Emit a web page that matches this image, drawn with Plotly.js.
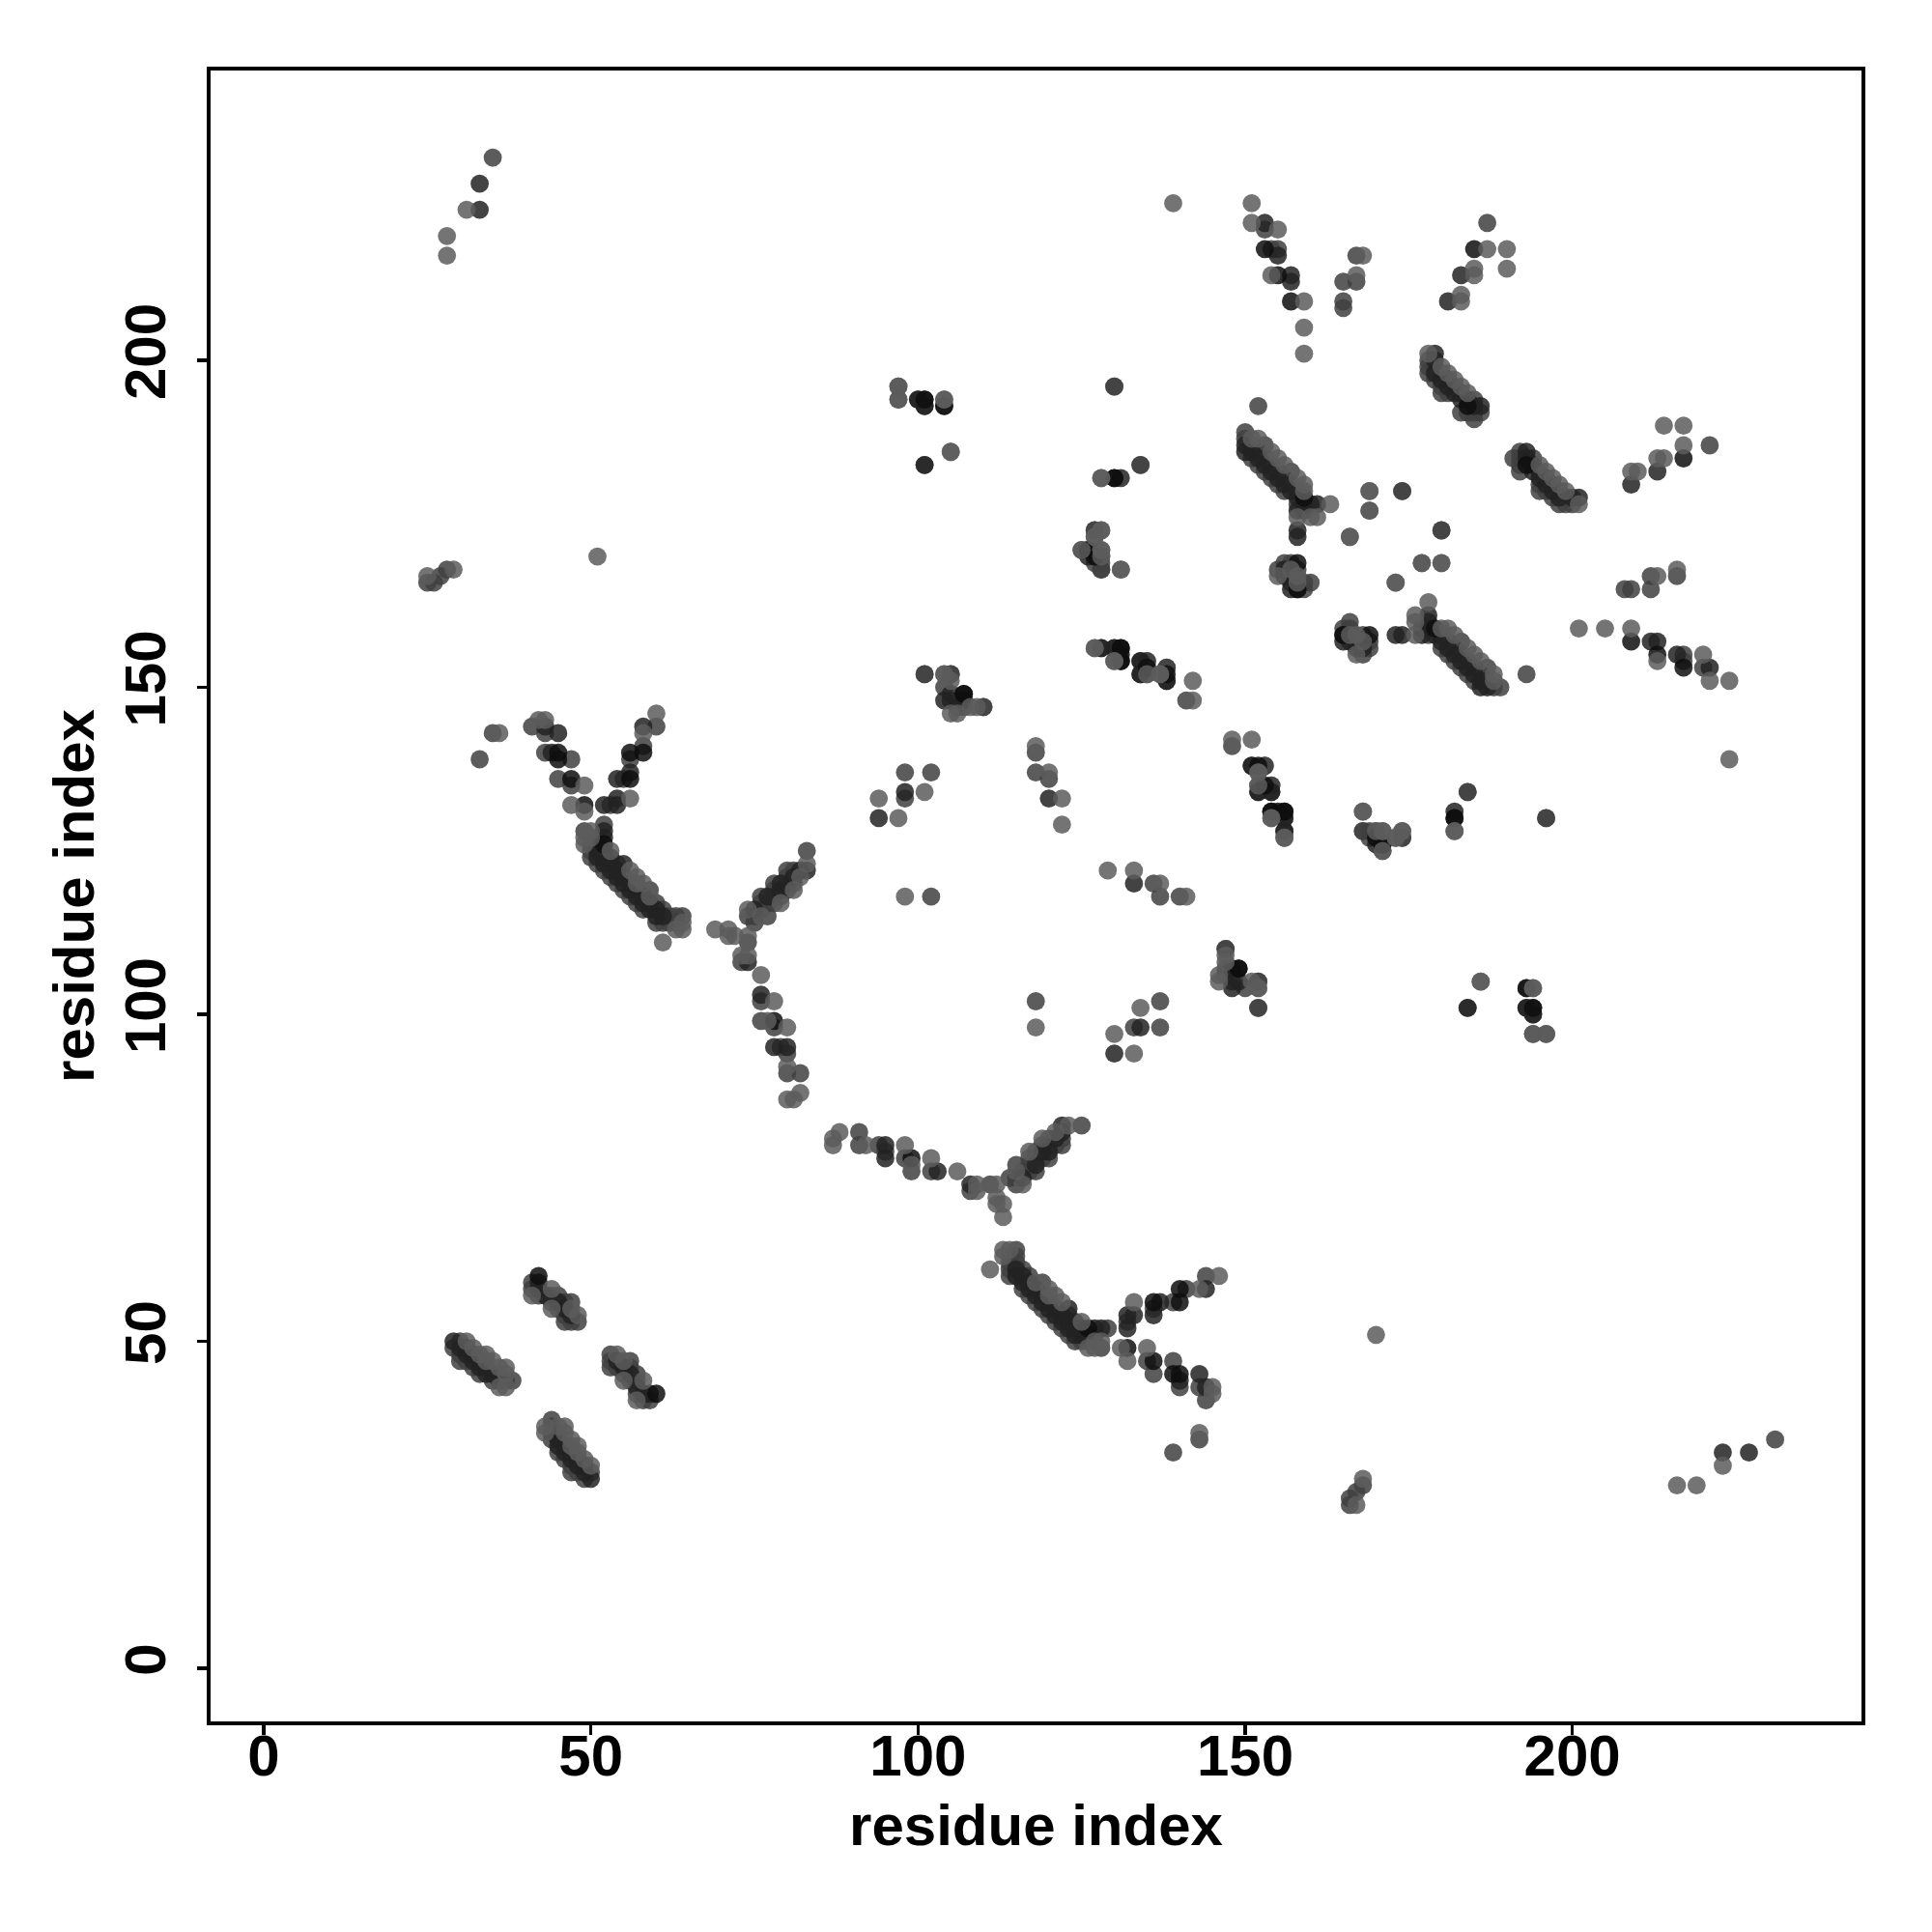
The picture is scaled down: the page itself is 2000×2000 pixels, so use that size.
<!DOCTYPE html>
<html>
<head>
<meta charset="utf-8">
<script src="https://cdn.plot.ly/plotly-3.0.1.min.js"></script>
<style>html,body{margin:0;padding:0;background:#fff}</style>
</head>
<body>
<div id="chart" style="width:2000px;height:2000px"></div>
<script>
const contactsLight = [
[43,37],[43,36],[45,37],[46,37],[46,36],[47,35],[47,34],[48,34],[48,33],[49,32],[50,31],
[41,57],[44,58],[44,55],[47,55],[48,54],
[111,61],[113,64],[113,63],[114,64],[118,59],[120,58],[120,57],[121,57],[122,56],[125,53],[126,49],[127,50],[127,49],[128,50],
[133,56],[131,49],[132,47],[135,49],[143,58],[146,60],[145,43],[145,42],[143,36],
[216,28],[219,28],[223,31],[167,25],[168,29],[170,51],
[88,82],[87,81],[87,80],[92,80],[98,80],[99,77],[102,78],[106,76],[109,74],[109,73],[112,74],[112,72],[112,71],[113,71],[113,69],
[115,76],[116,74],[117,79],[121,82],[119,81],[123,83],
[129,122],[133,122],[137,120],[141,118],[118,98],[134,101],[130,97],[133,94],
[147,109],[146,106],[151,105],[152,104],
[148,142],[151,142],[152,137],[152,135],[154,130],[156,127],
[168,131],[170,128],[171,128],[173,127],[174,128],[182,128],
[173,166],[166,173],[169,180],[180,169],[169,177],
[178,163],[176,161],[176,160],[176,158],[180,159],[181,159],[182,158],[184,156],[185,155],[186,154],[188,152],[188,151],
[167,158],[166,158],[167,155],[168,157],
[195,184],[196,183],[197,182],[198,181],[199,180],[201,178],
[209,183],[210,183],[213,185],[214,185],[214,190],[217,190],[217,187],
[201,159],[205,159],[209,159],[213,154],[220,155],[221,151],[224,151],[224,139],[213,167],[216,168],
[97,196],[97,194],[104,194],[105,186],[128,182],[128,174],[127,173],[128,171],[125,171],[131,168],
[127,156],[130,154],[137,152],[104,152],[105,146],[108,147],[186,105],[194,104]
];
const contactsMid = [
[44,38],[44,37],[44,35],[45,36],[45,33],[46,32],[47,31],[47,30],[48,30],[49,29],[50,30],
[41,59],[41,58],[42,57],[44,57],[44,56],[45,57],[45,55],[46,56],[46,54],[47,56],[46,53],[47,53],[48,53],
[115,64],[114,63],[115,63],[114,62],[115,62],[114,61],[114,60],[116,61],[116,58],[117,60],[117,57],[118,56],[119,59],[119,57],[119,55],
[120,54],[121,55],[121,53],[122,52],[123,54],[123,51],[124,50],[125,50],[126,51],[126,50],[127,51],[128,49],[129,52],
[132,53],[136,55],[135,47],[136,45],[139,56],[141,58],[144,60],[139,47],[140,43],[143,43],[144,41],[143,35],[139,33],
[231,35],[166,26],[167,27],[168,28],[166,25],
[91,82],[91,80],[94,80],[95,79],[98,78],[99,76],[102,76],[108,73],[111,74],
[114,75],[115,74],[115,75],[115,77],[116,76],[117,76],[117,77],[117,78],[118,76],[118,78],[118,79],[119,78],[119,80],
[120,78],[120,80],[120,81],[121,80],[122,80],[122,81],[125,83],
[136,120],[137,118],[140,118],[118,102],[137,102],[133,98],[137,98],
[147,110],[147,107],[147,106],[152,105],[152,101],[148,141],[153,138],[154,135],
[168,128],[169,128],[171,125],[174,127],[184,134],
[174,180],[180,174],[177,169],[165,159],[166,160],[166,159],[167,157],[168,158],[168,155],[169,157],[169,156],
[178,158],[178,159],[180,158],[180,156],[181,157],[181,155],[182,156],[182,154],[183,157],[183,155],[183,153],[184,154],[184,152],
[185,153],[185,151],[186,152],[187,153],[187,151],[188,150],[189,150],
[191,185],[192,186],[192,185],[192,184],[192,183],[194,185],[195,183],[195,181],[195,180],[196,182],[196,180],[197,181],[197,179],
[198,180],[198,178],[199,179],[199,178],[200,178],
[208,165],[209,165],[212,165],[212,167],[216,167],[221,187],[193,152],[217,155],[217,154],[220,153],
[130,196],[134,184],[127,174],[128,170],[127,169],[128,168],[135,154],[135,152],[138,153],
[101,152],[105,152],[104,150],[106,147],[110,147],[184,101],[193,104],[194,97],[196,97],[196,130]
];
const contactsDark = [
[44,36],[45,35],[45,34],[46,34],[46,33],[47,33],[47,32],[48,32],[48,31],[49,31],[49,30],[50,29],
[42,59],[42,58],[43,57],[45,56],[46,55],[47,54],
[115,61],[115,60],[116,60],[116,59],[117,59],[117,58],[118,58],[118,57],[119,56],[120,56],[120,55],[121,54],[122,54],[122,53],
[123,55],[123,53],[123,52],[124,53],[124,52],[124,51],[125,52],[125,51],[127,52],[128,52],
[132,54],[133,54],[132,52],[137,56],[136,54],[144,58],[143,45],[144,43],[140,44],
[223,33],[227,33],
[95,80],[95,78],[103,76],[108,74],[116,75],[118,77],[119,79],[120,79],[121,81],[122,82],[122,83],
[133,120],[130,94],[134,98],[148,105],[149,105],
[151,138],[152,134],[154,134],[156,130],[156,128],[182,131],
[165,158],[165,157],[166,157],[167,156],[168,156],
[173,158],[174,158],[177,158],[177,159],[178,160],[178,161],
[179,158],[180,157],[181,156],[182,155],[183,154],[184,153],[185,152],[186,151],[187,150],[186,150],
[193,186],[193,185],[194,184],[194,183],[195,182],[196,181],[197,180],[198,179],[200,179],[201,179],
[209,181],[213,183],[212,157],[213,157],[216,155],[221,153],
[100,194],[101,193],[101,184],[126,170],[128,156],[130,156],[134,154],[134,152],[138,151],[104,148],[107,148],
[193,101],[194,100],[194,101]
];
const contactsBlack = [
[42,60],[126,52],[136,56],[140,58],[140,56],[136,47],[132,49],[139,45],[140,45],
[99,78],[149,107],[152,138],[153,135],[154,131],[155,131],[156,131],[182,130],[171,126],[170,127],
[158,165],[169,158],[179,159],[193,184],[217,185],[209,157],[213,155],[217,153],
[101,194],[104,193],[130,182],[126,171],[131,156],[131,154],[107,149]
];
// Grey level of each tone, drawn semi-opaque so that lighter dots partly cover darker ones.
const toneColor = ['rgb(92,92,92)', 'rgb(63,63,63)', 'rgb(34,34,34)', 'rgb(14,14,14)'];
const dotOpacity = 0.85;
const xTicks = [0, 50, 100, 150, 200];
const yTicks = [0, 50, 100, 150, 200];
const axisLabel = 'residue index';

const groups = [contactsLight, contactsMid, contactsDark, contactsBlack];
const drawOrder = [1, 2, 3, 0];
const traces = drawOrder.map(function (k) {
  const pairs = groups[k];
  const hi = pairs.map(function (p) { return p[0]; });
  const lo = pairs.map(function (p) { return p[1]; });
  return {
    type: 'scatter', mode: 'markers',
    x: hi.concat(lo), y: lo.concat(hi),
    marker: { color: toneColor[k], opacity: dotOpacity, size: 18.8, line: { width: 0 } },
    showlegend: false, hoverinfo: 'skip', cliponaxis: true
  };
});
const font = 'Liberation Sans, Arial, sans-serif';
const axisBase = {
  showgrid: false, zeroline: false, showline: true, mirror: true,
  linecolor: '#000', linewidth: 3.6, ticks: 'outside', ticklen: 10, tickwidth: 3.4, tickcolor: '#000',
  tickmode: 'array', tickfont: { family: font, size: 60, color: '#000', weight: 700 }
};
const layout = {
  width: 2000, height: 2000, showlegend: false,
  paper_bgcolor: '#fff', plot_bgcolor: '#fff',
  margin: { l: 218, r: 73, t: 73, b: 218, pad: 0 },
  xaxis: Object.assign({}, axisBase, {
    range: [-8.13, 244.2], tickvals: xTicks, ticktext: xTicks.map(String), ticklabelstandoff: -30,
    title: { text: axisLabel, standoff: 19, font: { family: font, size: 60, color: '#000', weight: 700 } }
  }),
  yaxis: Object.assign({}, axisBase, {
    range: [-8.1, 244.3], tickvals: yTicks, ticktext: yTicks.map(String), tickangle: -90, ticklabelstandoff: 9,
    title: { text: axisLabel, standoff: 1, font: { family: font, size: 60, color: '#000', weight: 700 } }
  })
};
Plotly.newPlot('chart', traces, layout, { displayModeBar: false, staticPlot: true });
</script>
</body>
</html>
